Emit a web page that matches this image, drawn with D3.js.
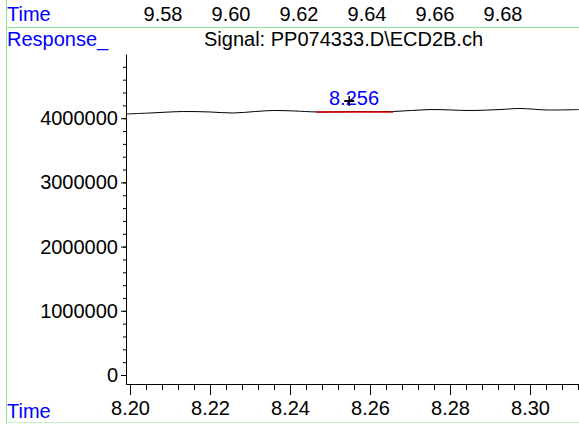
<!DOCTYPE html>
<html>
<head>
<meta charset="utf-8">
<script src="https://cdn.jsdelivr.net/npm/d3@7"></script>
<style>
  body { margin: 0; background: #fff; }
  text { font-family: "Liberation Sans", Arial, sans-serif; }
</style>
</head>
<body>
<svg id="chart" width="579" height="424"></svg>
<script>
// Trace (time in min, response in counts)
const traceTime = [8.1990, 8.2050, 8.2133, 8.2200, 8.2258, 8.2313, 8.2358, 8.2413, 8.2468,
                   8.2563, 8.2658, 8.2750, 8.2850, 8.2925, 8.2975, 8.3043, 8.3122];
const traceResp = [4065000, 4081000, 4104000, 4097000, 4081000, 4104000, 4120000, 4112000, 4097000,
                   4104000, 4104000, 4135000, 4120000, 4135000, 4151000, 4128000, 4135000];

// Integration baseline (red) and the peak
const baseTime = [8.2465, 8.2658];
const baseResp = [4097000, 4097000];
const peakTime = 8.2548;
const peakResp = 4268000;
const peakLabel = "8.256";

// Axis ticks
const bottomTicks = [8.20, 8.22, 8.24, 8.26, 8.28, 8.30];
const topTicks = [9.58, 9.60, 9.62, 9.64, 9.66, 9.68];
const yTicks = [0, 1000000, 2000000, 3000000, 4000000];

const title = "Signal: PP074333.D\\ECD2B.ch";

const width = 579, height = 424;
const fs = "20px";
const svg = d3.select("#chart");

// scales
const x = d3.scaleLinear().domain([8.199, 8.31225]).range([126, 579]);
const xTop = d3.scaleLinear().domain([9.58, 9.68]).range([163, 503]);
const y = d3.scaleLinear().domain([-140000, 5000000]).range([384, 54]);

// green frame lines
const green = "#8fe88f";
svg.append("line").attr("x1", 6.5).attr("x2", 6.5).attr("y1", 0).attr("y2", height)
    .attr("stroke", green);
svg.append("line").attr("x1", 6).attr("x2", width).attr("y1", 27.5).attr("y2", 27.5)
    .attr("stroke", green);
svg.append("line").attr("x1", 6).attr("x2", width).attr("y1", 422.5).attr("y2", 422.5)
    .attr("stroke", "#c4f4c4");

// blue labels on the left
const blue = "#0000ff";
svg.append("text").attr("x", 7).attr("y", 21).attr("fill", blue).style("font-size", fs).text("Time");
svg.append("text").attr("x", 7).attr("y", 46).attr("fill", blue).style("font-size", fs).text("Response_");
svg.append("text").attr("x", 7).attr("y", 418).attr("fill", blue).style("font-size", fs).text("Time");

// top time labels (no axis line)
svg.append("g")
    .selectAll("text")
    .data(topTicks)
    .join("text")
    .attr("x", d => xTop(d))
    .attr("y", 21)
    .attr("text-anchor", "middle")
    .style("font-size", fs)
    .text(d => d.toFixed(2));

// title
svg.append("text").attr("x", 204).attr("y", 46).style("font-size", fs).text(title);

// x axis: minor ticks then major ticks with labels
const xMinor = d3.range(0, 29).map(i => 8.20 + i * 0.004);
svg.append("g")
    .attr("transform", "translate(0,384)")
    .call(d3.axisBottom(x).tickValues(xMinor).tickSize(6).tickSizeOuter(0).tickFormat(""))
    .call(g => g.selectAll("line").attr("stroke", "#000"));
svg.append("g")
    .attr("transform", "translate(0,384)")
    .call(d3.axisBottom(x).tickValues(bottomTicks).tickSize(11).tickSizeOuter(0).tickPadding(6)
        .tickFormat(d3.format(".2f")))
    .call(g => g.select(".domain").attr("stroke", "#000"))
    .call(g => g.selectAll("text").style("font-size", fs).attr("fill", "#000")
        .style("font-family", "Liberation Sans, Arial, sans-serif"));

// y axis
const yMinor = d3.range(0, 25).map(i => i * 200000);
svg.append("g")
    .attr("transform", "translate(126,0)")
    .call(d3.axisLeft(y).tickValues(yMinor).tickSize(3).tickSizeOuter(0).tickFormat(""))
    .call(g => g.select(".domain").attr("stroke", "#000"));
svg.append("g")
    .attr("transform", "translate(126,0)")
    .call(d3.axisLeft(y).tickValues(yTicks).tickSize(5).tickSizeOuter(0).tickPadding(3)
        .tickFormat(d3.format("d")))
    .call(g => g.select(".domain").remove())
    .call(g => g.selectAll("text").style("font-size", fs).attr("fill", "#000")
        .style("font-family", "Liberation Sans, Arial, sans-serif"));

// trace
const pts = traceTime.map((t, i) => [t, traceResp[i]]);
const line = d3.line().x(d => x(d[0])).y(d => y(d[1])).curve(d3.curveCatmullRom);
svg.append("path")
    .datum(pts)
    .attr("fill", "none")
    .attr("stroke", "#000")
    .attr("stroke-width", 1)
    .attr("d", line);

// baseline
svg.append("path")
    .datum(baseTime.map((t, i) => [t, baseResp[i]]))
    .attr("fill", "none")
    .attr("stroke", "#e00000")
    .attr("stroke-width", 1.5)
    .attr("d", d3.line().x(d => x(d[0])).y(d => y(d[1])));

// peak label and apex marker
svg.append("text")
    .attr("x", x(8.256))
    .attr("y", y(peakResp) + 4)
    .attr("text-anchor", "middle")
    .attr("fill", blue)
    .style("font-size", fs)
    .text(peakLabel);
const px = x(peakTime), py = y(peakResp);
svg.append("line").attr("x1", px - 5).attr("x2", px + 5).attr("y1", py).attr("y2", py)
    .attr("stroke", "#000").attr("stroke-width", 2);
svg.append("line").attr("x1", px).attr("x2", px).attr("y1", py - 5).attr("y2", py + 5)
    .attr("stroke", "#000").attr("stroke-width", 1.5);
</script>
</body>
</html>
